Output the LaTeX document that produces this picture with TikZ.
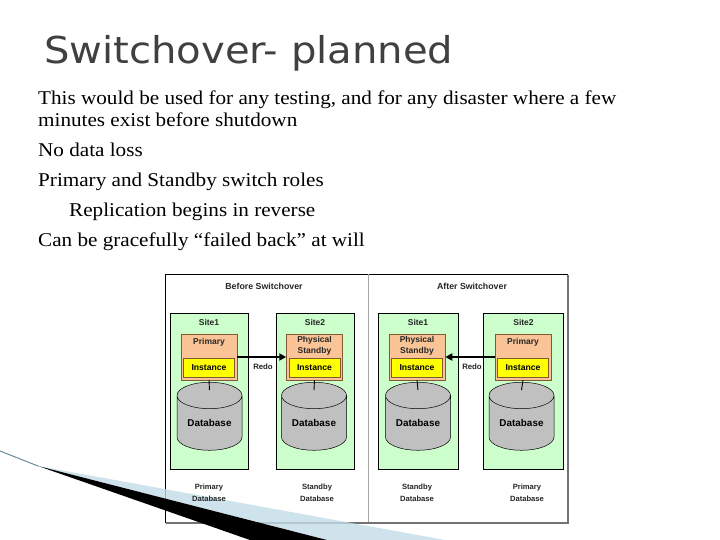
\documentclass[tikz,border=0pt]{standalone}
\usepackage{fontspec}
\setmainfont[FakeStretch=1.085]{Liberation Serif}
\newfontfamily\titlefont[FakeStretch=1.085]{DejaVu Sans}
\newfontfamily\diagfont{Liberation Sans}
\usepackage{xcolor}
\usepackage{tikz}
\usetikzlibrary{shapes.geometric,arrows.meta,positioning}
\definecolor{sitegreen}{RGB}{204,255,204}
\definecolor{hostorange}{RGB}{250,196,150}
\definecolor{hostedge}{RGB}{130,90,50}
\definecolor{instyellow}{RGB}{255,255,0}
\definecolor{dbgray}{RGB}{192,192,192}
\definecolor{titlegray}{RGB}{64,64,64}
\definecolor{swooshblue}{RGB}{196,220,232}
\definecolor{swooshline}{RGB}{90,130,150}
\tikzset{
  every node/.style={inner sep=0pt},
  bodyline/.style={anchor=base west,font=\fontsize{19.5}{22}\selectfont},
  sitebox/.style={draw=black,fill=sitegreen,line width=0.5pt,minimum width=78pt,minimum height=156pt},
  hostbox/.style={draw=hostedge,fill=hostorange,line width=0.5pt,minimum width=56pt,minimum height=46pt},
  instbox/.style={draw=hostedge,fill=instyellow,line width=0.5pt,minimum width=51pt,minimum height=19pt,
    font=\diagfont\bfseries\fontsize{8.6}{9}\selectfont},
  dbcyl/.style={cylinder,shape border rotate=90,aspect=0.6,draw=black,fill=dbgray,line width=0.5pt,
    minimum width=65pt,minimum height=68pt,font=\diagfont\bfseries\fontsize{9.9}{10}\selectfont},
  smalllabel/.style={font=\diagfont\bfseries\fontsize{8.5}{11}\selectfont,align=center,text=black!85},
  footlabel/.style={font=\diagfont\bfseries\fontsize{7.6}{12}\selectfont,align=center,text=black!85},
  redo/.style={line width=2.2pt,-{Triangle[length=7pt,width=7pt]}},
  hostlink/.style={line width=0.9pt}
}
\begin{document}
\begin{tikzpicture}[x=1pt,y=-1pt]
\useasboundingbox[fill=white] (0,0) rectangle (720,540);
% title and bullet text
\node[anchor=base west,font=\titlefont\fontsize{37}{40}\selectfont,text=titlegray] (title) at (44,64) {Switchover- planned};
\node[bodyline] (t1) at (38,105) {This would be used for any testing, and for any disaster where a few};
\node[bodyline] (t1b) at (38,127) {minutes exist before shutdown};
\node[bodyline] (t2) at (38,157) {No data loss};
\node[bodyline] (t3) at (38,187) {Primary and Standby switch roles};
\node[bodyline] (t4) at (69,216) {Replication begins in reverse};
\node[bodyline] (t5) at (38,246) {Can be gracefully ``failed back'' at will};
% outer frame
\node[draw=black,line width=0.5pt,fill=white,minimum width=402pt,minimum height=248pt] (frame) at (366,398) {};
\draw[black!55,line width=1.8pt] ([xshift=1pt,yshift=-1pt]frame.south west) -- ([xshift=1pt,yshift=-1pt]frame.south east) -- ([xshift=1pt,yshift=-1pt]frame.north east);
\coordinate (divtop) at (368,274);
\coordinate (divbot) at (368,522);
\draw[black!35,line width=0.6pt] (divtop) -- (divbot);
% swoosh, light part under the diagram texts
\coordinate (sw0) at (0,451);
\coordinate (sw1) at (38,466);
\draw[swooshline,line width=0.9pt] (sw0) -- (sw1);
\fill[swooshblue,fill opacity=0.8] (sw1) -- (445,540) -- (327,540) -- cycle;
\node[smalllabel,font=\diagfont\bfseries\fontsize{8.8}{11}\selectfont] (before) at (264,286) {Before Switchover};
\node[smalllabel,font=\diagfont\bfseries\fontsize{8.8}{11}\selectfont] (after) at (472,286) {After Switchover};
% sites
\node[sitebox] (sA1) at (209,391) {};
\node[sitebox] (sA2) at (315,391) {};
\node[sitebox,minimum width=80pt] (sB1) at (418,391) {};
\node[sitebox,minimum width=80pt] (sB2) at (523.5,391) {};
\node[smalllabel] at (209,322) {Site1};
\node[smalllabel] at (315,322) {Site2};
\node[smalllabel] at (418,322) {Site1};
\node[smalllabel] at (523.5,322) {Site2};
% hosts with instances
\node[hostbox] (hA1) at (209,357) {};
\node[hostbox] (hA2) at (314.5,357) {};
\node[hostbox] (hB1) at (417,357) {};
\node[hostbox] (hB2) at (523,357) {};
\node[smalllabel] at (209,342) {Primary};
\node[smalllabel] at (314.5,346) {Physical\\Standby};
\node[smalllabel] at (417,346) {Physical\\Standby};
\node[smalllabel] at (523,342) {Primary};
\node[instbox] (iA1) at (209,367.5) {Instance};
\node[instbox] (iA2) at (314.5,367.5) {Instance};
\node[instbox] (iB1) at (417,367.5) {Instance};
\node[instbox] (iB2) at (523,367.5) {Instance};
% databases
\node[dbcyl] (dA1) at (209.5,423) {Database};
\node[dbcyl] (dA2) at (314,423) {Database};
\node[dbcyl] (dB1) at (418,423) {Database};
\node[dbcyl] (dB2) at (521.5,423) {Database};
\draw[hostlink] (hA1.south) -- ([yshift=-8pt]dA1.north);
\draw[hostlink] (hA2.south) -- ([yshift=-8pt]dA2.north);
\draw[hostlink] (hB1.south) -- ([yshift=-8pt]dB1.north);
\draw[hostlink] (hB2.south) -- ([yshift=-8pt]dB2.north);
% redo shipping
\draw[redo] (hA1.east) -- (hA2.west);
\draw[redo] (hB2.west) -- (hB1.east);
\node[footlabel,font=\diagfont\bfseries\fontsize{7.8}{12}\selectfont] at (263,367) {Redo};
\node[footlabel,font=\diagfont\bfseries\fontsize{7.8}{12}\selectfont] at (472,367) {Redo};
% roles
\node[footlabel] at (209,493) {Primary\\Database};
\node[footlabel] at (317,493) {Standby\\Database};
\node[footlabel] at (417,493) {Standby\\Database};
\node[footlabel] at (527,493) {Primary\\Database};
% swoosh, dark part on top
\fill[black] (sw1) -- (327,540) -- (250,540) -- cycle;
\end{tikzpicture}
\end{document}
